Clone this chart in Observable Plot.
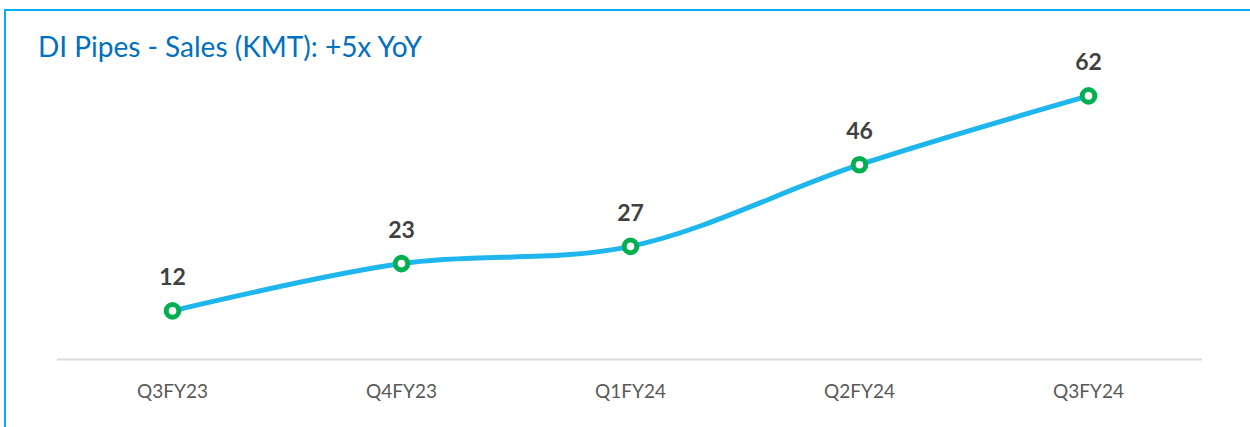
<!DOCTYPE html>
<html>
<head>
<meta charset="utf-8">
<script src="https://cdn.jsdelivr.net/npm/d3@7"></script>
<script src="https://cdn.jsdelivr.net/npm/@observablehq/plot@0.6"></script>
<style>
  html, body { margin: 0; padding: 0; background: #fff; }
  #wrap { position: relative; width: 1250px; height: 427px; overflow: hidden; font-family: Lato, "Open Sans", sans-serif; }
  #bt { position: absolute; left: 4px; top: 9px; width: 1246px; height: 2px; background: #00b0f0; }
  #bl { position: absolute; left: 4px; top: 9px; width: 2px; height: 418px; background: #00b0f0; }
  #title { position: absolute; left: 38px; top: 28px; margin: 0; font-size: 28px; font-weight: normal; color: #0070c0; white-space: nowrap; line-height: 36px; }
  #chart { position: absolute; left: 0; top: 0; }
</style>
</head>
<body>
<div id="wrap">
  <div id="bt"></div>
  <div id="bl"></div>
  <h2 id="title">DI Pipes - Sales (KMT): +5x YoY</h2>
  <div id="chart"></div>
</div>
<script>
const quarters = ["Q3FY23", "Q4FY23", "Q1FY24", "Q2FY24", "Q3FY24"];
const sales = [12, 23, 27, 46, 62];

const data = quarters.map((q, i) => ({quarter: q, value: sales[i]}));

const plot = Plot.plot({
  width: 1250,
  height: 427,
  marginLeft: 57,
  marginRight: 48,
  marginTop: 61,
  marginBottom: 65,
  style: {background: "transparent", fontFamily: "Lato, 'Open Sans', sans-serif"},
  x: {type: "point", domain: quarters, padding: 0.5, label: null},
  y: {domain: [0, 70], axis: null},
  marks: [
    Plot.ruleY([0], {stroke: "#d9d9d9", strokeWidth: 2, dy: -3}),
    Plot.axisX({tickSize: 0, tickPadding: 22, fontSize: 19, fill: "#595959", label: null}),
    Plot.line(data, {x: "quarter", y: "value", stroke: "#1fb6ee", strokeWidth: 5, curve: "catmull-rom"}),
    Plot.dot(data, {x: "quarter", y: "value", r: 6.3, fill: "white", stroke: "#00b050", strokeWidth: 5}),
    Plot.text(data, {x: "quarter", y: "value", text: d => String(d.value), dy: -33, fontSize: 23, fontWeight: "bold", fill: "#404040"})
  ]
});
document.getElementById("chart").appendChild(plot);
</script>
</body>
</html>
